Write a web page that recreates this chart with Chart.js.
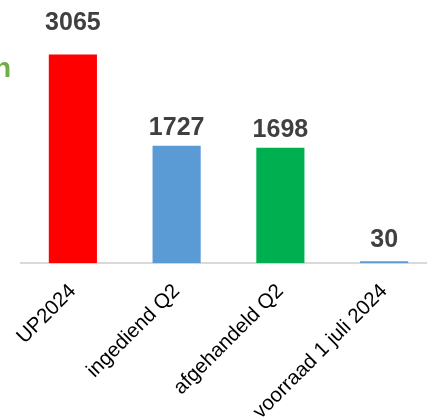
<!DOCTYPE html>
<html>
<head>
<meta charset="utf-8">
<script src="https://cdn.jsdelivr.net/npm/chart.js@4/dist/chart.umd.min.js"></script>
<style>
  html, body { margin: 0; padding: 0; background: #fff; overflow: hidden; width: 427px; height: 420px; }
  #wrap { position: relative; width: 440px; height: 440px; }
  #frag { position: absolute; left: -6px; top: 54px; font: bold 28px 'Liberation Sans', Arial, sans-serif; color: #70AD47; line-height: 1; }
</style>
</head>
<body>
<div id="wrap">
  <canvas id="c" width="440" height="440"></canvas>
  <span id="frag">n</span>
</div>
<script>
const categories = ['UP2024', 'ingediend Q2', 'afgehandeld Q2', 'voorraad 1 juli 2024'];
const values = [3065, 1727, 1698, 30];
const barColors = ['#FF0000', '#5B9BD5', '#00B050', '#5B9BD5'];

const valueLabels = {
  id: 'valueLabels',
  afterDatasetsDraw(chart, args, opts) {
    const ctx = chart.ctx;
    const meta = chart.getDatasetMeta(0);
    ctx.save();
    ctx.font = "bold 25px 'Liberation Sans', Arial, sans-serif";
    ctx.fillStyle = '#404040';
    ctx.textAlign = 'center';
    ctx.textBaseline = 'alphabetic';
    meta.data.forEach((el, i) => {
      const gap = (opts.gaps && opts.gaps[i] != null) ? opts.gaps[i] : 12;
      ctx.fillText(String(values[i]), el.x, el.y - gap);
    });
    ctx.restore();
  }
};

const chart = new Chart(document.getElementById('c'), {
  type: 'bar',
  data: {
    labels: categories,
    datasets: [{
      data: values,
      backgroundColor: barColors,
      borderWidth: 0,
      categoryPercentage: 1,
      barPercentage: 0.464
    }]
  },
  options: {
    responsive: false,
    animation: false,
    layout: { padding: { left: 21, right: 4, top: 0, bottom: 0 } },
    plugins: {
      legend: { display: false },
      tooltip: { enabled: false },
      valueLabels: { gaps: [25, 11, 11, 14] }
    },
    scales: {
      x: {
        grid: { display: false, drawTicks: false },
        border: { display: true, color: '#D9D9D9', width: 2 },
        ticks: {
          color: '#000',
          font: { family: "'Liberation Sans', Arial, sans-serif", size: 20.5 },
          minRotation: 45,
          maxRotation: 45,
          autoSkip: false,
          padding: 16
        }
      },
      y: {
        display: false,
        min: 0,
        max: 3866
      }
    }
  },
  plugins: [valueLabels]
});
document.title = 'bottom=' + chart.chartArea.bottom + ' left=' + chart.chartArea.left + ' right=' + chart.chartArea.right;
</script>
</body>
</html>
